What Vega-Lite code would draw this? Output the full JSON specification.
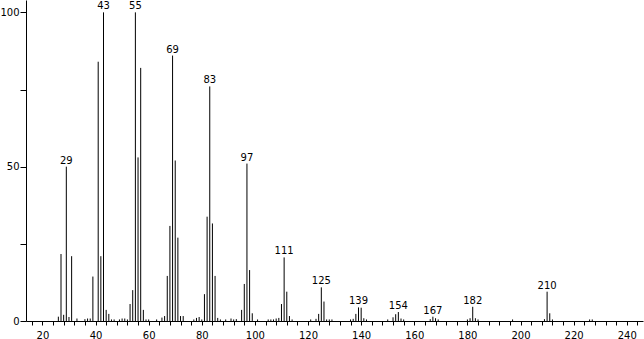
{
  "$schema": "https://vega.github.io/schema/vega-lite/v6.json",
  "autosize": {"type": "none"},
  "padding": {"left": 26, "top": 0, "right": 1, "bottom": 18},
  "width": 617,
  "height": 321,
  "background": "white",
  "config": {
    "view": {"stroke": null},
    "axis": {"grid": false, "domainColor": "black", "tickColor": "black", "labelColor": "black", "labelFont": "DejaVu Sans", "labelFontSize": 10, "domainWidth": 1, "tickWidth": 1, "labelOverlap": false, "labelFlush": false}
  },
  "data": {"values": [
    {"mz": 26, "intensity": 1.4}, {"mz": 27, "intensity": 21.7}, {"mz": 28, "intensity": 2}, {"mz": 29, "intensity": 50},
    {"mz": 30, "intensity": 1.3}, {"mz": 31, "intensity": 21}, {"mz": 33, "intensity": 0.8}, {"mz": 36, "intensity": 0.6},
    {"mz": 37, "intensity": 0.8}, {"mz": 38, "intensity": 0.8}, {"mz": 39, "intensity": 14.4}, {"mz": 41, "intensity": 84},
    {"mz": 42, "intensity": 21}, {"mz": 43, "intensity": 100}, {"mz": 44, "intensity": 3.6}, {"mz": 45, "intensity": 2.3},
    {"mz": 46, "intensity": 0.5}, {"mz": 47, "intensity": 0.5}, {"mz": 49, "intensity": 0.5}, {"mz": 50, "intensity": 0.8},
    {"mz": 51, "intensity": 0.8}, {"mz": 52, "intensity": 0.5}, {"mz": 53, "intensity": 5.5}, {"mz": 54, "intensity": 10},
    {"mz": 55, "intensity": 100}, {"mz": 56, "intensity": 53}, {"mz": 57, "intensity": 82}, {"mz": 58, "intensity": 3.6},
    {"mz": 59, "intensity": 0.5}, {"mz": 60, "intensity": 0.5}, {"mz": 63, "intensity": 0.5}, {"mz": 65, "intensity": 1.1},
    {"mz": 66, "intensity": 1.6}, {"mz": 67, "intensity": 14.6}, {"mz": 68, "intensity": 30.8}, {"mz": 69, "intensity": 86},
    {"mz": 70, "intensity": 52}, {"mz": 71, "intensity": 27}, {"mz": 72, "intensity": 1.6}, {"mz": 73, "intensity": 1.6},
    {"mz": 77, "intensity": 0.5}, {"mz": 78, "intensity": 1}, {"mz": 79, "intensity": 1.3}, {"mz": 80, "intensity": 0.5},
    {"mz": 81, "intensity": 8.7}, {"mz": 82, "intensity": 33.8}, {"mz": 83, "intensity": 76}, {"mz": 84, "intensity": 31.6},
    {"mz": 85, "intensity": 14.6}, {"mz": 86, "intensity": 1}, {"mz": 87, "intensity": 0.5}, {"mz": 89, "intensity": 0.5},
    {"mz": 91, "intensity": 0.8}, {"mz": 92, "intensity": 0.5}, {"mz": 93, "intensity": 0.6}, {"mz": 95, "intensity": 3.6},
    {"mz": 96, "intensity": 12}, {"mz": 97, "intensity": 51}, {"mz": 98, "intensity": 16.5}, {"mz": 99, "intensity": 2.5},
    {"mz": 101, "intensity": 0.5}, {"mz": 105, "intensity": 0.5}, {"mz": 106, "intensity": 0.5}, {"mz": 107, "intensity": 0.5},
    {"mz": 108, "intensity": 0.8}, {"mz": 109, "intensity": 1}, {"mz": 110, "intensity": 5.5}, {"mz": 111, "intensity": 20.6},
    {"mz": 112, "intensity": 9.5}, {"mz": 113, "intensity": 1.6}, {"mz": 114, "intensity": 0.5}, {"mz": 121, "intensity": 0.5},
    {"mz": 123, "intensity": 0.7}, {"mz": 124, "intensity": 2.3}, {"mz": 125, "intensity": 10.9}, {"mz": 126, "intensity": 6.3},
    {"mz": 127, "intensity": 0.5}, {"mz": 128, "intensity": 0.5}, {"mz": 129, "intensity": 0.5}, {"mz": 136, "intensity": 0.5},
    {"mz": 137, "intensity": 0.7}, {"mz": 138, "intensity": 2.3}, {"mz": 139, "intensity": 4.4}, {"mz": 140, "intensity": 4.3},
    {"mz": 141, "intensity": 0.9}, {"mz": 142, "intensity": 0.5}, {"mz": 150, "intensity": 0.5}, {"mz": 152, "intensity": 1.2},
    {"mz": 153, "intensity": 2.2}, {"mz": 154, "intensity": 2.9}, {"mz": 155, "intensity": 0.8}, {"mz": 156, "intensity": 0.5},
    {"mz": 166, "intensity": 0.6}, {"mz": 167, "intensity": 1.4}, {"mz": 168, "intensity": 0.9}, {"mz": 169, "intensity": 0.5},
    {"mz": 180, "intensity": 0.5}, {"mz": 181, "intensity": 0.9}, {"mz": 182, "intensity": 4.6}, {"mz": 183, "intensity": 0.9},
    {"mz": 184, "intensity": 0.5}, {"mz": 197, "intensity": 0.5}, {"mz": 209, "intensity": 0.6}, {"mz": 210, "intensity": 9.5},
    {"mz": 211, "intensity": 2.5}, {"mz": 212, "intensity": 0.5}, {"mz": 226, "intensity": 0.5}, {"mz": 227, "intensity": 0.5}
  ]},
  "encoding": {
    "x": {
      "field": "mz", "type": "quantitative",
      "scale": {"domain": [13.82, 246.1], "nice": false, "zero": false},
      "axis": {
        "title": null,
        "values": [16, 20, 24, 28, 32, 36, 40, 44, 48, 52, 56, 60, 64, 68, 72, 76, 80, 84, 88, 92, 96, 100, 104, 108, 112, 116, 120, 124, 128, 132, 136, 140, 144, 148, 152, 156, 160, 164, 168, 172, 176, 180, 184, 188, 192, 196, 200, 204, 208, 212, 216, 220, 224, 228, 232, 236, 240, 244],
        "labelExpr": "datum.value % 20 === 0 ? datum.label : ''",
        "tickSize": 4,
        "labelPadding": 5
      }
    },
    "y": {
      "field": "intensity", "type": "quantitative",
      "scale": {"domain": [0, 104], "nice": false},
      "axis": {
        "title": null,
        "values": [0, 25, 50, 75, 100],
        "labelExpr": "datum.value % 50 === 0 ? datum.label : ''",
        "tickSize": 6,
        "labelPadding": 1
      }
    }
  },
  "layer": [
    {
      "mark": {"type": "rule", "color": "black", "strokeWidth": 1},
      "encoding": {"y2": {"datum": 0}}
    },
    {
      "transform": [{"filter": "indexof([29, 43, 55, 69, 83, 97, 111, 125, 139, 154, 167, 182, 210], datum.mz) >= 0"}],
      "mark": {"type": "text", "baseline": "alphabetic", "align": "center", "dy": -3, "font": "DejaVu Sans", "fontSize": 10, "color": "black"},
      "encoding": {
        "text": {"field": "mz", "type": "quantitative", "format": "d"}
      }
    }
  ]
}
